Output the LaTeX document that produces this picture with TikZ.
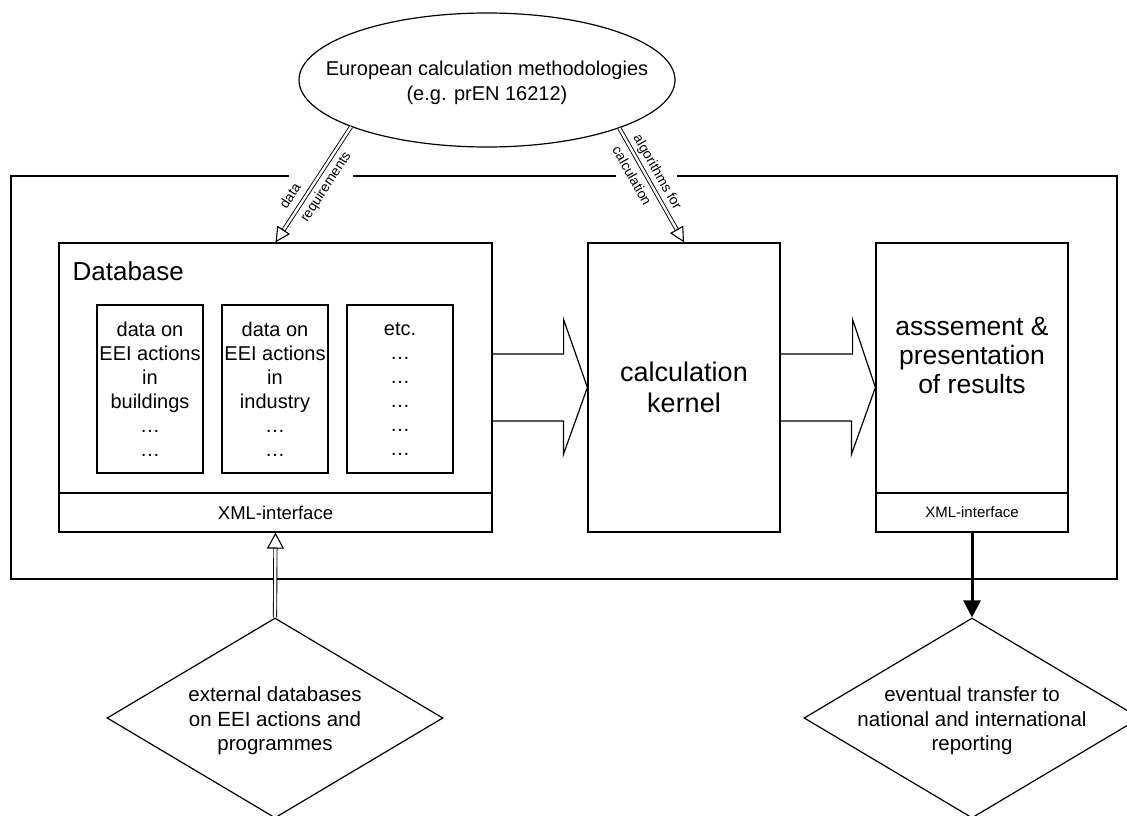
\documentclass[tikz,border=0pt]{standalone}
\usepackage{fontspec}
\setmainfont{Liberation Sans}
\usetikzlibrary{shapes.geometric,arrows.meta,calc}
\begin{document}
\begin{tikzpicture}[x=1pt,y=-1pt,line width=1.2pt,
  box/.style={draw,rectangle,inner sep=0pt,line width=1.2pt},
  txt/.style={align=center,inner sep=0pt},
  dbl/.style={double,double distance=2.4pt,line width=0.9pt},
  openhead/.style={-{Triangle[open,length=15pt,width=15pt]},line width=1.1pt},
  lbl/.style={align=left,inner sep=0pt,font=\fontsize{13.8}{24.5}\selectfont},
  dia/.style={draw,diamond,inner sep=0pt,minimum width=336pt,minimum height=200pt,line width=1.2pt}
]
\useasboundingbox (0,0) rectangle (1127,816);

% outer frame with gaps for the labels
\draw (289,176) -- (11,176) -- (11,579) -- (1117,579) -- (1117,176) -- (677,176);
\draw (353,176) -- (616,176);

% ellipse
\node[draw,ellipse,inner sep=0pt,minimum width=376pt,minimum height=134pt,line width=1.2pt,
      label={[txt,font=\fontsize{20}{25}\selectfont,yshift=-3pt]center:European calculation methodologies\\(e.g. prEN 16212)}] (ell) at (487,80) {};

% database
\node[box,minimum width=433pt,minimum height=289pt] (db) at (275.5,387.5) {};
\node[anchor=base west,inner sep=0pt,font=\fontsize{26}{30}\selectfont] (dbtitle) at (72,280) {Database};
\node[box,minimum width=106pt,minimum height=168pt,txt,font=\fontsize{20}{24}\selectfont] (b1) at (150,389)
  {data on\\EEI actions\\in\\buildings\\…\\…};
\node[box,minimum width=106pt,minimum height=168pt,txt,font=\fontsize{20}{24}\selectfont] (b2) at (275,389)
  {data on\\EEI actions\\in\\industry\\…\\…};
\node[box,minimum width=106pt,minimum height=168pt,txt,font=\fontsize{20}{24}\selectfont] (b3) at (400,389)
  {etc.\\…\\…\\…\\…\\…};
\node[box,minimum width=433pt,minimum height=39pt,font=\fontsize{18.5}{22}\selectfont] (dbxml) at (275.5,512.5) {XML-interface};

% calculation kernel
\node[box,minimum width=192pt,minimum height=289pt,txt,font=\fontsize{27}{31}\selectfont] (kernel) at (684,387.5)
  {calculation\\kernel};

% results
\node[box,minimum width=192pt,minimum height=289pt] (res) at (972,387.5) {};
\node[txt,font=\fontsize{26.5}{29}\selectfont] (restext) at (972,355) {asssement \&\\presentation\\of results};
\node[box,minimum width=192pt,minimum height=39pt,font=\fontsize{15}{18}\selectfont] (resxml) at (972,512.5) {XML-interface};

% big block arrows
\draw (db.east) ++(0,-33.5) -- ++(71,0) -- ++(0,-34.5) -- (kernel.west) -- ++(-24,67) -- ++(0,-33.5) -- ++(-71,0);
\draw (kernel.east) ++(0,-33.5) -- ++(72,0) -- ++(0,-34.5) -- (res.west) -- ++(-24,67) -- ++(0,-33.5) -- ++(-72,0);

% diamonds
\node[dia,label={[txt,font=\fontsize{20.5}{24.5}\selectfont,yshift=-3pt]center:external databases\\on EEI actions and\\programmes}] (dia1) at (275,718) {};
\node[dia,label={[txt,font=\fontsize{20.5}{24.5}\selectfont,yshift=-3pt]center:eventual transfer to\\national and international\\reporting}] (dia2) at (972,718) {};

% double arrows from the ellipse
\draw[dbl] (ell.199.4) -- ($(db.north)!14pt!(ell.199.4)$);
\draw[openhead] ($(db.north)!15pt!(ell.199.4)$) -- (db.north);
\path (ell.199.4) -- node[lbl,sloped,pos=0.465] {data\\requirements} (db.north);

\draw[dbl] (ell.340) -- ($(kernel.north)!14pt!(ell.340)$);
\draw[openhead] ($(kernel.north)!15pt!(ell.340)$) -- (kernel.north);
\path (ell.340) -- node[lbl,sloped,pos=0.434] {algorithms for\\calculation} (kernel.north);

% double arrow from external databases
\draw[dbl] (dia1.north) -- ($(dbxml.south)!15pt!(dia1.north)$);
\draw[-{Triangle[open,length=16pt,width=17pt]},line width=1.1pt] ($(dbxml.south)!16pt!(dia1.north)$) -- (dbxml.south);

% thick arrow to reporting
\draw[line width=3pt,-{Triangle[length=17pt,width=17pt]}] (resxml.south) -- (dia2.north);
\end{tikzpicture}
\end{document}
